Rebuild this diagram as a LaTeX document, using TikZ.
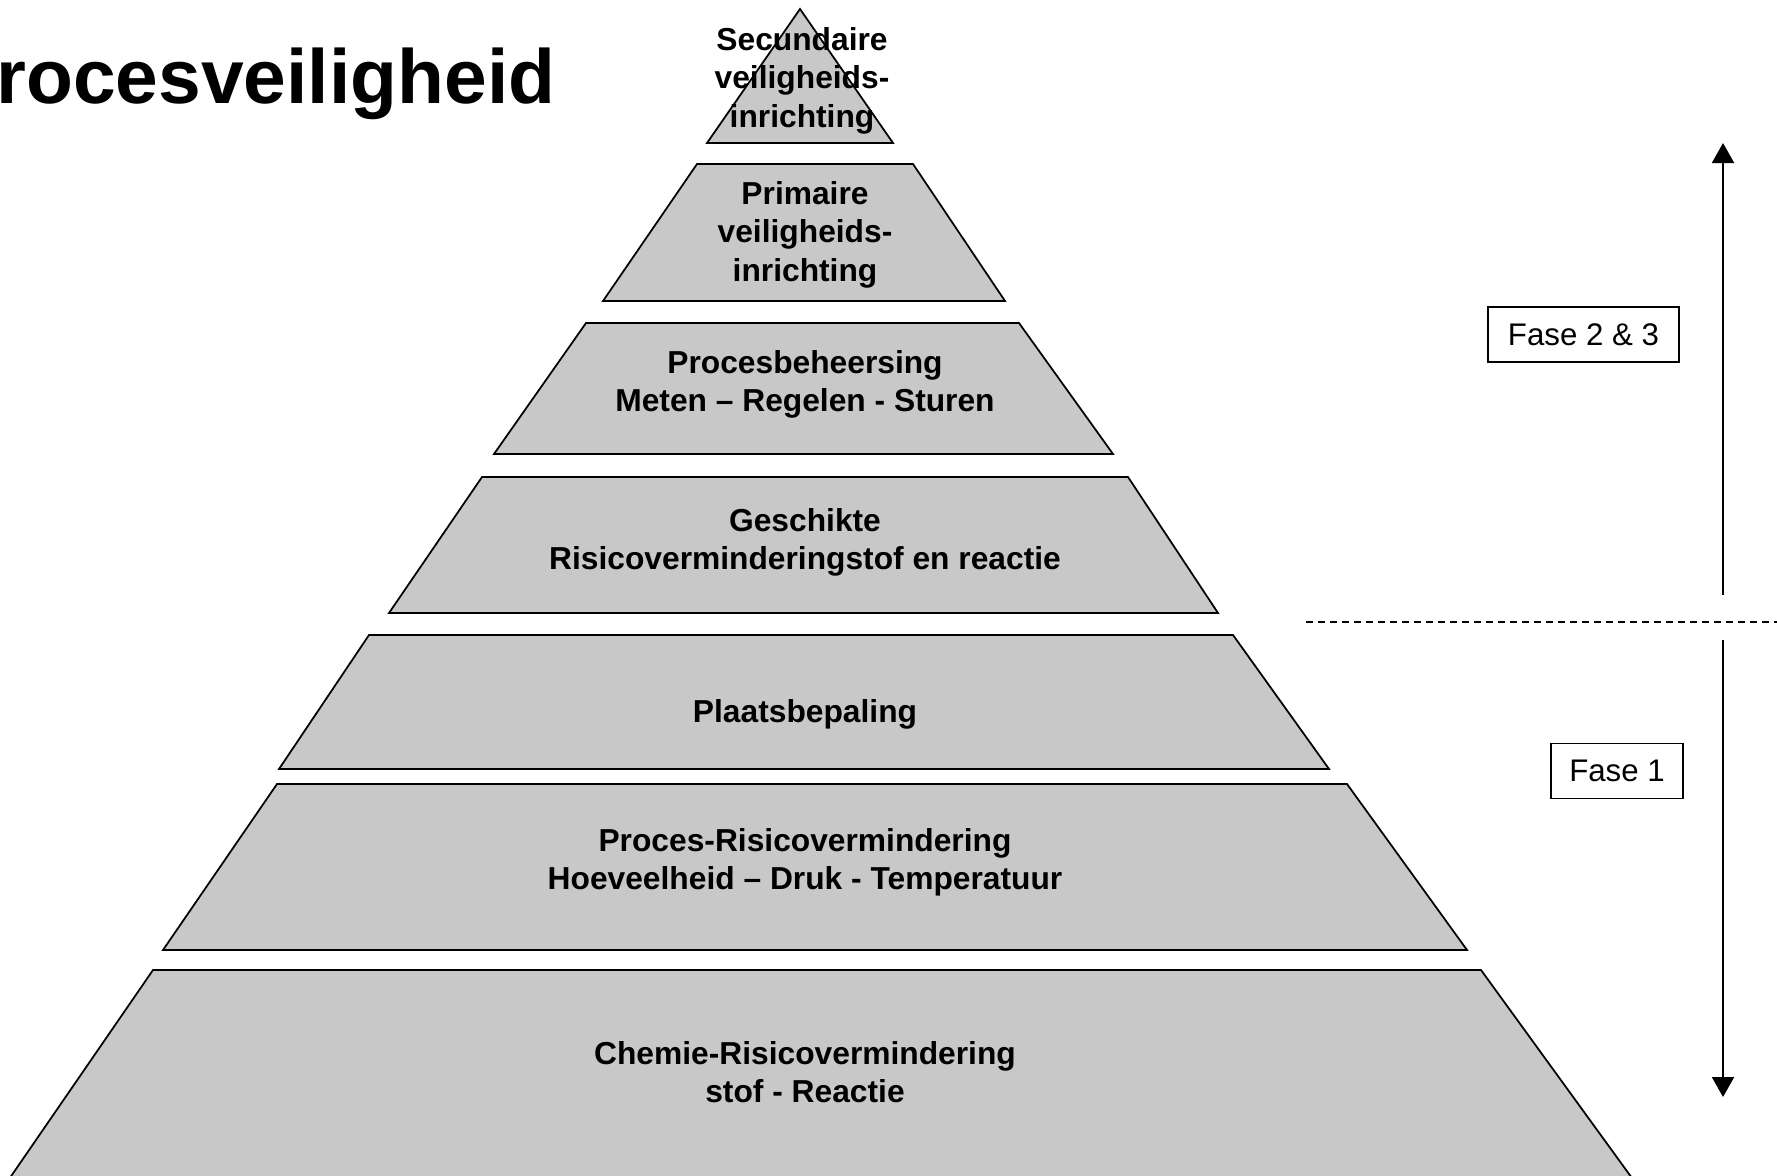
\documentclass[tikz,border=0pt]{standalone}
\usepackage{fontspec}
\setmainfont{Liberation Sans}
\usepackage{tikz}
\usetikzlibrary{arrows.meta,positioning}
\definecolor{tiergray}{HTML}{C8C8C8}

\begin{document}
\begin{tikzpicture}[
    x=0.4pt, y=-0.4pt,
    >={Triangle[length=8pt, width=8.8pt]},
    tier/.style={
        fill=tiergray,
        draw=black,
        line width=0.7pt
    },
    tierlabel/.style={
        align=center,
        inner sep=0pt,
        font=\fontsize{12.7}{15.4}\selectfont\bfseries
    },
    fasebox/.style={
        rectangle,
        draw,
        line width=0.6pt,
        inner sep=0pt,
        minimum height=22pt,
        font=\fontsize{12.5}{15}\selectfont
    }
]
    \useasboundingbox (0,0) rectangle (1777,1175);

    % === TITLE ===
    \node[anchor=base west, inner sep=0pt, font=\fontsize{30.7}{36}\selectfont\bfseries] (title) at (-4,103) {rocesveiligheid};

    % === PYRAMID TIERS ===
    % top y / bottom y / top left / top right / bottom left / bottom right
    \foreach \t/\b/\tl/\tr/\bl/\br in {9/143/800/800/707/893,
                                       164/301/697/913/603/1005,
                                       323/454/586/1019/494/1113,
                                       477/613/482/1128/389/1218,
                                       635/769/369/1233/279/1329,
                                       784/950/277/1347/163/1467} {
        \draw[tier] (\tl,\t) -- (\tr,\t) -- (\br,\b) -- (\bl,\b) -- cycle;
    }

    % Bottom tier (runs off the page)
    \fill[tiergray] (153,970) -- (1481,970) -- (1637,1185) -- (5,1185) -- cycle;
    \draw[line width=0.7pt] (5,1185) -- (153,970) -- (1481,970) -- (1637,1185);

    % Tier labels
    \node[tierlabel] (secundaire) at (802,80.5) {Secundaire\\veiligheids-\\inrichting};
    \node[tierlabel] (primaire) at (805,234.5) {Primaire\\veiligheids-\\inrichting};
    \node[tierlabel] (beheersing) at (805,384.5) {Procesbeheersing\\Meten – Regelen - Sturen};
    \node[tierlabel] (geschikte) at (805,542.5) {Geschikte\\Risicoverminderingstof en reactie};
    \node[tierlabel] (plaats) at (805,714.5) {Plaatsbepaling};
    \node[tierlabel] (procesrisico) at (805,862.5) {Proces-Risicovermindering\\Hoeveelheid – Druk - Temperatuur};
    \node[tierlabel] (chemie) at (805,1072) {Chemie-Risicovermindering\\stof - Reactie};

    % === PHASES ===
    \coordinate (upstart) at (1723,595);
    \coordinate (uptip) at (1723,143);
    \coordinate (downstart) at (1723,640);
    \coordinate (downtip) at (1723,1097);
    \coordinate (splitleft) at (1306,622);
    \coordinate (splitright) at (1777,622);

    \draw[->, line width=0.8pt] (upstart) -- (uptip);
    \draw[->, line width=0.8pt] (downstart) -- (downtip);
    \draw[line width=0.6pt, dash pattern=on 2.8pt off 2pt] (splitleft) -- (splitright);

    \node[fasebox, minimum width=76.4pt] (fase23) at (1583.5,334.5) {Fase 2 \& 3};
    \node[fasebox, minimum width=52.8pt] (fase1) at (1617,771) {Fase 1};
\end{tikzpicture}
\end{document}
